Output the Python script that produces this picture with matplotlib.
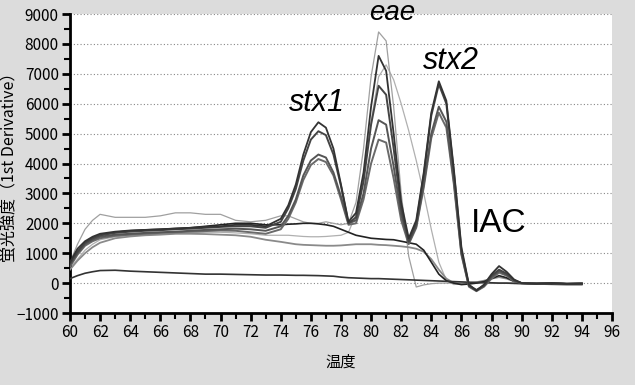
import matplotlib
matplotlib.use("Agg")
import matplotlib.pyplot as plt
from matplotlib.ticker import MultipleLocator

plt.rcParams['font.family'] = ['Liberation Sans Narrow', 'Noto Sans CJK JP', 'DejaVu Sans']

# temperature grid (deg C)
temps = [60, 60.5, 61, 61.5, 62, 63, 64, 65, 66, 67, 68, 69, 70, 71, 72, 73,
         74, 74.5, 75, 75.5, 76, 76.5, 77, 77.5, 78, 78.5, 79, 79.5, 80, 80.5,
         81, 81.5, 82, 82.5, 83, 83.5, 84, 84.5, 85, 85.5, 86, 86.5, 87, 87.5,
         88, 88.5, 89, 89.5, 90, 91, 92, 93, 94]

# multiplex samples: stx1 + eae + stx2 + IAC
sample_a = [700, 1150, 1400, 1550, 1650, 1720, 1760, 1780, 1800, 1820, 1850, 1880, 1900, 1950, 1950, 1900,
            2150, 2600, 3300, 4300, 5050, 5380, 5200, 4500, 3300, 2050, 2350, 3700, 5900, 7600,
            7100, 5000, 2700, 1500, 2100, 3700, 5700, 6750, 6100, 3800, 1200, -50, -250, -50,
            300, 570, 380, 120, 0, -20, 0, -30, -20]
sample_b = [650, 1050, 1350, 1500, 1600, 1680, 1720, 1750, 1770, 1800, 1820, 1850, 1880, 1900, 1900, 1850,
            2050, 2500, 3150, 4100, 4800, 5080, 4950, 4300, 3250, 2000, 2200, 3400, 5300, 6600,
            6300, 4500, 2500, 1400, 2000, 3600, 5600, 6650, 6000, 3700, 1100, -80, -230, -80,
            250, 450, 320, 100, 0, -20, 0, -30, -20]
sample_c = [600, 1000, 1300, 1450, 1550, 1620, 1650, 1680, 1700, 1720, 1750, 1780, 1800, 1820, 1800, 1750,
            1900, 2250, 2800, 3600, 4100, 4300, 4200, 3700, 2900, 2000, 2100, 3000, 4500, 5450,
            5300, 3900, 2300, 1350, 1900, 3300, 5000, 5900, 5400, 3400, 1000, -100, -250, -100,
            200, 400, 280, 80, 0, -20, 0, -30, -20]
sample_d = [550, 950, 1250, 1400, 1500, 1580, 1620, 1650, 1680, 1700, 1720, 1740, 1760, 1750, 1700, 1650,
            1800, 2150, 2700, 3450, 3950, 4150, 4050, 3600, 2800, 1950, 2000, 2800, 4000, 4800,
            4700, 3500, 2100, 1300, 1850, 3200, 4850, 5700, 5200, 3300, 950, -120, -270, -120,
            150, 350, 250, 60, 0, -20, 0, -30, -20]
# eae only samples
sample_e = [700, 1300, 1800, 2100, 2300, 2200, 2200, 2200, 2250, 2350, 2350, 2300, 2300, 2100, 2050, 2100,
            2250, 2250, 2150, 2050, 2000, 2000, 2050, 2000, 1950, 2000, 2700, 4500, 6900, 8400,
            8100, 5900, 3000, 900, -130, -60, -20, 0, 0, 0, 0, 0, 0, 0,
            0, 0, 0, 0, 0, 0, 0, 0, 0]
sample_f = [500, 800, 1100, 1300, 1450, 1550, 1600, 1620, 1640, 1660, 1680, 1700, 1700, 1680, 1650, 1600,
            1600, 1600, 1580, 1560, 1550, 1550, 1560, 1580, 1600, 1700, 2300, 3600, 5400, 6900,
            7300, 6800, 6000, 5100, 4100, 3000, 1800, 700, 100, -50, 0, 0, 0, 0,
            0, 0, 0, 0, 0, 0, 0, 0, 0]
# negative samples
sample_g = [600, 1050, 1350, 1500, 1600, 1700, 1750, 1780, 1800, 1830, 1850, 1900, 1950, 2000, 2000, 1950,
            1950, 1970, 1980, 2000, 2000, 1980, 1950, 1900, 1800, 1700, 1600, 1550, 1500, 1480,
            1460, 1450, 1400, 1350, 1300, 1100, 700, 300, 80, 0, -50, -30, 0, 50,
            150, 250, 180, 60, 0, -10, 0, -20, -10]
sample_h = [450, 750, 1000, 1200, 1350, 1500, 1560, 1600, 1620, 1650, 1650, 1640, 1620, 1600, 1550, 1450,
            1380, 1340, 1300, 1280, 1270, 1260, 1250, 1250, 1260, 1280, 1300, 1300, 1300, 1280,
            1270, 1250, 1230, 1200, 1150, 1050, 800, 450, 150, 0, -30, 0, 30, 80,
            150, 200, 150, 60, 0, -10, 0, -20, -10]
sample_i = [150, 250, 330, 380, 420, 430, 400, 380, 360, 340, 320, 300, 300, 290, 280, 270,
            270, 265, 260, 260, 255, 250, 240, 230, 200, 180, 170, 160, 150, 150,
            140, 130, 120, 110, 100, 90, 80, 70, 60, 50, 40, 30, 20, 20,
            10, 0, 0, -10, -20, -30, -40, -50, -50]

fig = plt.figure(figsize=(6.35, 3.85), dpi=100, facecolor='#dcdcdc')
ax = fig.add_axes([0.1102, 0.187, 0.8535, 0.7766])
ax.set_facecolor('white')

for y in range(0, 10000, 1000):
    ax.axhline(y, color='#888888', lw=0.8, ls=(0, (1, 2)), zorder=1)

ax.plot(temps, sample_f, color='#b0b0b0', lw=0.9, zorder=2)
ax.plot(temps, sample_e, color='#a0a0a0', lw=0.9, zorder=2)
ax.plot(temps, sample_h, color='#8a8a8a', lw=1.3, zorder=3)
ax.plot(temps, sample_g, color='#222222', lw=1.2, zorder=3)
ax.plot(temps, sample_i, color='#333333', lw=1.2, zorder=3)
ax.plot(temps, sample_d, color='#6a6a6a', lw=1.4, zorder=4)
ax.plot(temps, sample_c, color='#555555', lw=1.4, zorder=4)
ax.plot(temps, sample_b, color='#444444', lw=1.4, zorder=4)
ax.plot(temps, sample_a, color='#333333', lw=1.3, zorder=4)

ax.set_xlim(60, 96)
ax.set_ylim(-1000, 9000)
ax.xaxis.set_major_locator(MultipleLocator(2))
ax.xaxis.set_minor_locator(MultipleLocator(1))
ax.yaxis.set_major_locator(MultipleLocator(1000))
ax.yaxis.set_minor_locator(MultipleLocator(500))
for side in ['top', 'right']:
    ax.spines[side].set_visible(False)
for side in ['left', 'bottom']:
    ax.spines[side].set_linewidth(2)
ax.tick_params(which='major', length=6, width=2, labelsize=11, pad=2)
ax.tick_params(which='minor', length=4, width=1.5)

ax.set_xlabel('温度', fontsize=11, labelpad=9)
ax.set_ylabel('蛍光強度（1st Derivative）', fontsize=11.5)
ax.yaxis.set_label_coords(-0.096, 0.5)

ax.text(76.4, 5750, 'stx1', fontsize=22, style='italic', family='Liberation Sans',
        ha='center', va='baseline')
ax.text(81.4, 8800, 'eae', fontsize=20, style='italic', family='Liberation Sans',
        ha='center', va='baseline', clip_on=False)
ax.text(85.3, 7160, 'stx2', fontsize=22, style='italic', family='Liberation Sans',
        ha='center', va='baseline')
ax.text(88.5, 1700, 'IAC', fontsize=24, family='Liberation Sans',
        ha='center', va='baseline')

fig.savefig('out.png', dpi=100, facecolor=fig.get_facecolor())
